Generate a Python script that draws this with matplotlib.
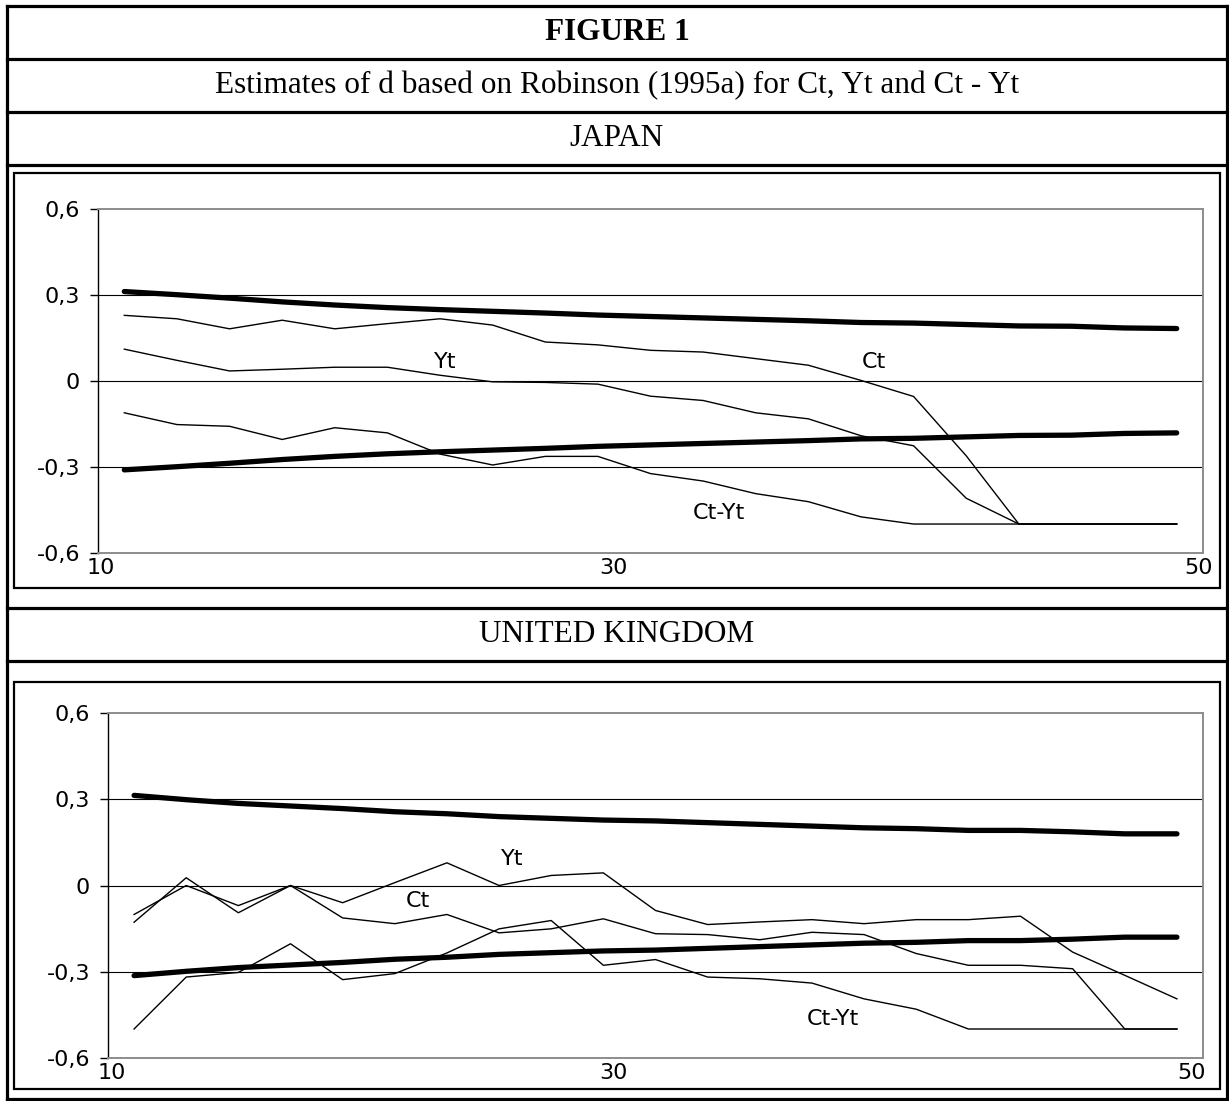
import matplotlib
matplotlib.use("Agg")
import matplotlib.pyplot as plt
from matplotlib.lines import Line2D
from matplotlib.patches import Rectangle

# ---------------- data ----------------
bandwidths = list(range(10, 51, 2))

jp_upper = [0.311, 0.300, 0.288, 0.275, 0.264, 0.255, 0.248, 0.242, 0.236, 0.229, 0.224,
            0.219, 0.214, 0.209, 0.203, 0.201, 0.196, 0.191, 0.190, 0.184, 0.182]
jp_lower = [-0.311, -0.300, -0.288, -0.275, -0.264, -0.255, -0.248, -0.242, -0.236, -0.229, -0.224,
            -0.219, -0.214, -0.209, -0.203, -0.201, -0.196, -0.191, -0.190, -0.184, -0.182]
jp_ct = [0.228, 0.216, 0.181, 0.211, 0.181, 0.199, 0.216, 0.194, 0.135, 0.125, 0.106,
         0.100, 0.077, 0.054, 0.001, -0.055, -0.262, -0.5, -0.5, -0.5, -0.5]
jp_yt = [0.110, 0.071, 0.034, 0.040, 0.047, 0.047, 0.019, -0.004, -0.006, -0.012, -0.054,
         -0.069, -0.112, -0.133, -0.192, -0.227, -0.410, -0.5, -0.5, -0.5, -0.5]
jp_ctyt = [-0.112, -0.153, -0.159, -0.205, -0.164, -0.182, -0.256, -0.294, -0.264, -0.264, -0.324,
           -0.350, -0.394, -0.422, -0.475, -0.5, -0.5, -0.5, -0.5, -0.5, -0.5]

uk_upper = [0.314, 0.299, 0.286, 0.277, 0.268, 0.257, 0.250, 0.240, 0.234, 0.228, 0.225,
            0.219, 0.213, 0.207, 0.201, 0.198, 0.192, 0.192, 0.187, 0.180, 0.180]
uk_lower = [-0.314, -0.299, -0.286, -0.277, -0.268, -0.257, -0.250, -0.240, -0.234, -0.228, -0.225,
            -0.219, -0.213, -0.207, -0.201, -0.198, -0.192, -0.192, -0.187, -0.180, -0.180]
uk_yt = [-0.101, 0.000, -0.070, 0.000, -0.060, 0.010, 0.079, 0.000, 0.035, 0.044, -0.087,
         -0.136, -0.127, -0.119, -0.133, -0.119, -0.119, -0.107, -0.232, -0.313, -0.395]
uk_ct = [-0.128, 0.027, -0.095, 0.000, -0.113, -0.133, -0.101, -0.165, -0.151, -0.116, -0.168,
         -0.171, -0.189, -0.163, -0.171, -0.237, -0.278, -0.278, -0.290, -0.5, -0.5]
uk_ctyt = [-0.5, -0.319, -0.303, -0.203, -0.328, -0.307, -0.235, -0.151, -0.122, -0.278, -0.258,
           -0.319, -0.325, -0.340, -0.395, -0.431, -0.5, -0.5, -0.5, -0.5, -0.5]

x_tick_labels = ["10", "30", "50"]
y_ticks = [-0.6, -0.3, 0.0, 0.3, 0.6]
y_tick_labels = ["-0,6", "-0,3", "0", "0,3", "0,6"]

title = "FIGURE 1"
subtitle = "Estimates of d based on Robinson (1995a) for Ct, Yt and Ct - Yt"
country_titles = ["JAPAN", "UNITED KINGDOM"]

# ---------------- figure ----------------
W, H = 1229, 1101
fig = plt.figure(figsize=(W / 100, H / 100), dpi=100)
fig.patch.set_facecolor("white")


def fx(x):
    return x / W


def fy(y):
    return 1 - y / H


def hline(y, x0, x1, lw):
    fig.add_artist(Line2D([fx(x0), fx(x1)], [fy(y), fy(y)], transform=fig.transFigure,
                          color="black", lw=lw, solid_capstyle="projecting"))


def vline(x, y0, y1, lw):
    fig.add_artist(Line2D([fx(x), fx(x)], [fy(y0), fy(y1)], transform=fig.transFigure,
                          color="black", lw=lw, solid_capstyle="projecting"))


# outer table frame
L, R, T, B = 7, 1227, 6, 1099
for y in [T, 59, 112, 165, 608, 661, B]:
    hline(y, L, R, 2.3)
vline(L, T, B, 2.3)
vline(R, T, B, 2.3)

# inner chart boxes
for (y0, y1) in [(173, 588), (682, 1089)]:
    fig.add_artist(Rectangle((fx(14), fy(y1)), fx(1220) - fx(14), fy(y0) - fy(y1),
                             transform=fig.transFigure, fill=False, edgecolor="black", lw=1.6))

serif = "Liberation Serif"
sans = "DejaVu Sans"
TFS = 22.5
fig.text(fx(617), fy(33), title, ha="center", va="center", family=serif,
         fontsize=TFS, fontweight="bold")
fig.text(fx(617), fy(86), subtitle, ha="center", va="center", family=serif, fontsize=TFS)
fig.text(fx(617), fy(139), country_titles[0], ha="center", va="center", family=serif, fontsize=TFS)
fig.text(fx(617), fy(635), country_titles[1], ha="center", va="center", family=serif, fontsize=TFS)

FS = 16


def panel(left, right, top, bottom, upper, lower, ct, yt, ctyt, xtick_pos, labels):
    ax = fig.add_axes([fx(left), fy(bottom), fx(right) - fx(left), fy(top) - fy(bottom)])
    ax.set_xlim(9, 51)
    ax.set_ylim(-0.6, 0.6)
    for g in [-0.3, 0.0, 0.3]:
        ax.axhline(g, color="black", lw=0.8, zorder=1)
    for s in [ct, yt, ctyt]:
        ax.plot(bandwidths, s, color="black", lw=1.0, zorder=2)
    for s in [upper, lower]:
        ax.plot(bandwidths, s, color="black", lw=3.8, solid_capstyle="round", zorder=3)
    for side in ["top", "right", "bottom"]:
        ax.spines[side].set_color("#8c8c8c")
        ax.spines[side].set_linewidth(1.4)
    ax.spines["left"].set_color("black")
    ax.spines["left"].set_linewidth(1.0)
    ax.set_yticks(y_ticks)
    ax.set_yticklabels(y_tick_labels, family=sans, fontsize=FS)
    ax.tick_params(axis="y", length=6, width=1.0, direction="out", pad=7)
    ax.set_xticks(xtick_pos)
    ax.set_xticklabels(x_tick_labels, family=sans, fontsize=FS)
    ax.tick_params(axis="x", length=0, pad=4)
    for (tx, ty, txt) in labels:
        ax.text(tx, ty, txt, ha="center", va="center", family=sans, fontsize=FS)
    return ax


panel(98, 1203, 208.7, 552.7, jp_upper, jp_lower, jp_ct, jp_yt, jp_ctyt,
      [9.1, 28.6, 50.85],
      [(22.2, 0.065, "Yt"), (38.5, 0.065, "Ct"), (32.6, -0.46, "Ct-Yt")])
panel(108, 1203, 713.3, 1057.7, uk_upper, uk_lower, uk_ct, uk_yt, uk_ctyt,
      [9.15, 28.4, 50.55],
      [(24.5, 0.091, "Yt"), (20.9, -0.055, "Ct"), (36.8, -0.466, "Ct-Yt")])

fig.savefig("out.png", dpi=100, facecolor="white")
